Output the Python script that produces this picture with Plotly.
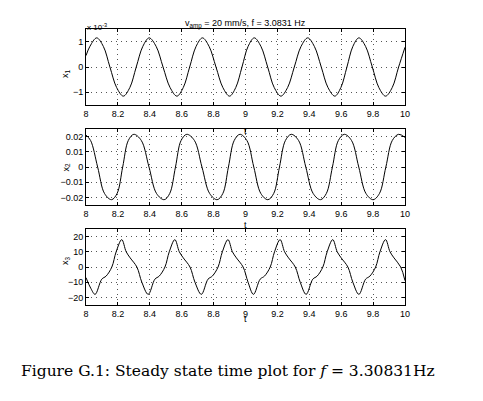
import plotly.graph_objects as go

# time samples / values
t1 = [8.000, 8.025, 8.067, 8.109, 8.150, 8.192, 8.234, 8.275, 8.315, 8.356, 8.396,
      8.440, 8.483, 8.527, 8.570, 8.610, 8.650, 8.690, 8.730, 8.772, 8.815, 8.858,
      8.900, 8.939, 8.978, 9.016, 9.055, 9.097, 9.139, 9.180, 9.222, 9.264, 9.306,
      9.348, 9.390, 9.432, 9.475, 9.517, 9.560, 9.598, 9.636, 9.673, 9.711, 9.753,
      9.795, 9.836, 9.878, 9.920, 9.960, 10.000]
x1 = [0.45, 0.82, 1.15, 0.81, 0.0, -0.81, -1.15, -0.81, 0.0, 0.81, 1.15,
      0.81, 0.0, -0.81, -1.15, -0.81, 0.0, 0.81, 1.15, 0.81, 0.0, -0.81,
      -1.15, -0.81, 0.0, 0.81, 1.15, 0.81, 0.0, -0.81, -1.15, -0.81, 0.0,
      0.81, 1.15, 0.81, 0.0, -0.81, -1.15, -0.81, 0.0, 0.81, 1.15, 0.81,
      0.0, -0.81, -1.15, -0.81, 0.0, 0.78]  # x 10^-3

t2 = [8.000, 8.029, 8.073, 8.116, 8.160, 8.195, 8.230, 8.265, 8.300, 8.347, 8.395,
      8.442, 8.490, 8.525, 8.561, 8.596, 8.632, 8.680, 8.727, 8.775, 8.822, 8.858,
      8.893, 8.929, 8.965, 9.009, 9.052, 9.096, 9.140, 9.177, 9.213, 9.250, 9.287,
      9.333, 9.378, 9.424, 9.470, 9.507, 9.545, 9.582, 9.620, 9.665, 9.710, 9.755,
      9.800, 9.840, 9.880, 9.920, 9.960, 10.000]
x2 = [0.0210, 0.0174, 0.0, -0.0174, -0.0215, -0.0174, 0.0, 0.0174, 0.0215, 0.0174, 0.0,
      -0.0174, -0.0215, -0.0174, 0.0, 0.0174, 0.0215, 0.0174, 0.0, -0.0174, -0.0215, -0.0174,
      0.0, 0.0174, 0.0215, 0.0174, 0.0, -0.0174, -0.0215, -0.0174, 0.0, 0.0174, 0.0215,
      0.0174, 0.0, -0.0174, -0.0215, -0.0174, 0.0, 0.0174, 0.0215, 0.0174, 0.0, -0.0174,
      -0.0215, -0.0174, 0.0, 0.0174, 0.0215, 0.0195]

t3 = [8.000, 8.030, 8.057, 8.099, 8.126, 8.162, 8.189, 8.224, 8.252, 8.277, 8.319, 8.350,
      8.390, 8.432, 8.459, 8.495, 8.522, 8.557, 8.585, 8.610, 8.652, 8.683,
      8.723, 8.765, 8.792, 8.828, 8.855, 8.890, 8.918, 8.943, 8.985, 9.016,
      9.050, 9.092, 9.119, 9.155, 9.182, 9.217, 9.245, 9.270, 9.312, 9.343,
      9.380, 9.422, 9.449, 9.485, 9.512, 9.547, 9.575, 9.600, 9.642, 9.673,
      9.711, 9.753, 9.780, 9.816, 9.843, 9.878, 9.906, 9.931, 9.973, 10.000]
x3 = [-7, -14, -18, -8, -6, 0, 10, 18, 10, 6, 0, -10,
      -18, -8, -6, 0, 10, 18, 10, 6, 0, -10,
      -18, -8, -6, 0, 10, 18, 10, 6, 0, -10,
      -18, -8, -6, 0, 10, 18, 10, 6, 0, -10,
      -18, -8, -6, 0, 10, 18, 10, 6, 0, -10,
      -18, -8, -6, 0, 10, 18, 10, 6, 0, -9]

xticks = [8, 8.2, 8.4, 8.6, 8.8, 9, 9.2, 9.4, 9.6, 9.8, 10]
xticktext = ["8", "8.2", "8.4", "8.6", "8.8", "9", "9.2", "9.4", "9.6", "9.8", "10"]

# the page body has an 8px margin all round, so work in page px and shift by OFF;
# the figure is shrunk so the page never overflows the window
OFF = 8
W, H = 483 - 2 * OFF, 401 - 2 * OFF
X0, X1 = 86, 405  # plot area left/right in page px


def px(x):
    return (x - OFF) / W


def py(y):
    return 1 - (y - OFF) / H


panels = [
    dict(t=t1, y=x1, label="x<sub>1</sub>", rng=[-1.5, 1.5], ticks=[-1, 0, 1],
         top=29, bot=105),
    dict(t=t2, y=x2, label="x<sub>2</sub>", rng=[-0.025, 0.025],
         ticks=[-0.02, -0.01, 0, 0.01, 0.02], top=129, bot=205),
    dict(t=t3, y=x3, label="x<sub>3</sub>", rng=[-25, 25],
         ticks=[-20, -10, 0, 10, 20], top=229, bot=305),
]

FONT = "Liberation Sans, Arial, sans-serif"

fig = go.Figure()
layout = dict(
    width=W, height=H,
    margin=dict(l=0, r=0, t=0, b=0),
    paper_bgcolor="white", plot_bgcolor="white",
    showlegend=False,
    font=dict(family=FONT, size=9, color="black"),
)

annotations = []
for i, p in enumerate(panels, start=1):
    sfx = "" if i == 1 else str(i)
    fig.add_trace(go.Scatter(x=p["t"], y=p["y"], mode="lines",
                             line=dict(color="black", width=1, shape="spline"),
                             xaxis="x" + sfx, yaxis="y" + sfx))
    axis_common = dict(showline=True, mirror="ticks", linecolor="black", linewidth=1,
                       ticks="inside", ticklen=3, tickcolor="black",
                       showgrid=True, gridcolor="#555", griddash="1px,4px", gridwidth=1,
                       zeroline=False, tickfont=dict(size=9), automargin=False)
    layout["xaxis" + sfx] = dict(axis_common, domain=[px(X0), px(X1)], range=[8, 10],
                                 tickvals=xticks, ticktext=xticktext,
                                 anchor="y" + sfx, ticklabelstandoff=0)
    layout["yaxis" + sfx] = dict(axis_common, domain=[py(p["bot"]), py(p["top"])],
                                 range=p["rng"], tickvals=p["ticks"], anchor="x" + sfx)
    annotations.append(dict(text="t", x=px((X0 + X1) / 2), y=py(p["bot"] + 20),
                            xref="paper", yref="paper", showarrow=False, borderpad=0,
                            font=dict(size=9)))
    annotations.append(dict(text=p["label"], x=px(58), y=py((p["top"] + p["bot"]) / 2),
                            xref="paper", yref="paper", showarrow=False, textangle=-90,
                            font=dict(size=9)))

annotations.append(dict(text="v<sub>amp</sub> = 20 mm/s, f = 3.0831 Hz",
                        x=px((X0 + X1) / 2), y=py(16), xref="paper", yref="paper",
                        showarrow=False, font=dict(size=9)))
annotations.append(dict(text="x 10<sup>-3</sup>", x=px(X0 - 1), y=py(20),
                        xref="paper", yref="paper", xanchor="left", showarrow=False,
                        font=dict(size=8)))
annotations.append(dict(text="Figure G.1: Steady state time plot for <i>f</i> = 3.30831Hz",
                        x=px(228), y=py(382), xref="paper", yref="paper",
                        showarrow=False, font=dict(family="DejaVu Serif, serif", size=15.5)))

layout["annotations"] = annotations
fig.update_layout(**layout)

fig.write_html("out.html")
